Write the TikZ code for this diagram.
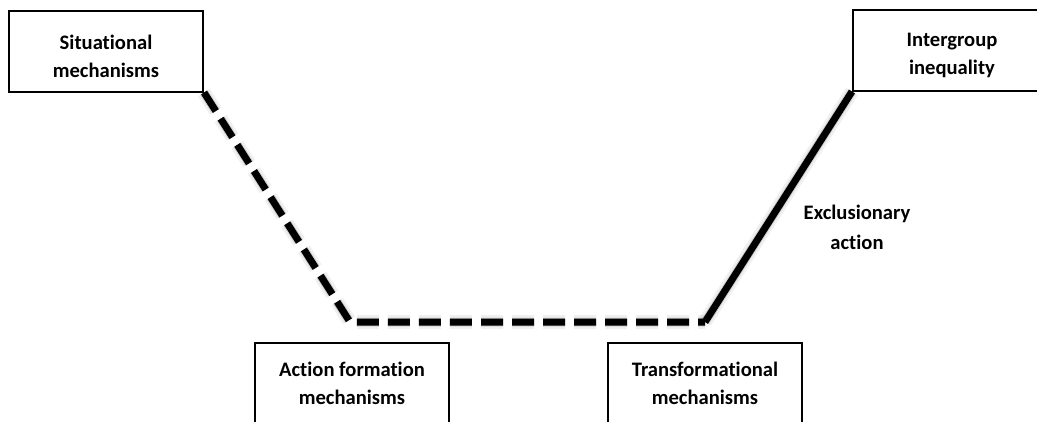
\documentclass[tikz,border=0pt]{standalone}
\usepackage{fontspec}
\setmainfont{Carlito}[Ligatures=NoCommon]
\begin{document}
\begin{tikzpicture}[x=1pt,y=-1pt,
  mbox/.style={draw=black, line width=2pt, minimum width=194pt, minimum height=81pt,
    inner sep=0pt},
  lbl/.style={align=center, inner sep=0pt, font=\bfseries\fontsize{20.6}{28}\selectfont},
  link/.style={line width=7pt, line join=miter},
  dashlink/.style={link, dash pattern=on 22pt off 9pt},
  shadowa/.style={line width=14pt, draw=black, opacity=0.06, line join=round},
  shadowb/.style={line width=9pt, draw=black, opacity=0.13, line join=round}]
\clip (0,0) rectangle (1037,421);
\fill[white] (0,0) rectangle (1037,421);
\node[mbox] (sit) at (106,51) {};
\node[mbox, minimum width=198pt] (ine) at (952,50) {};
\node[mbox] (act) at (352,383) {};
\node[mbox] (tra) at (705,383) {};
\node[lbl] (sit-t) at ([yshift=-5pt]sit.center) {Situational\\mechanisms};
\node[lbl] (ine-t) at ([yshift=-5pt]ine.center) {Intergroup\\inequality};
\node[lbl] (act-t) at ([yshift=0pt]act.center) {Action formation\\mechanisms};
\node[lbl] (tra-t) at ([yshift=0pt]tra.center) {Transformational\\mechanisms};
\node[lbl, font=\bfseries\fontsize{20.6}{30}\selectfont] (exc) at (857,227) {Exclusionary\\action};
\coordinate (c1) at (350,322);
\coordinate (c2) at (705,322);
% shadows
\begin{scope}[shift={(3,7)}]
\draw[shadowa, dash pattern=on 22pt off 9pt] (sit.south east) -- (c1) -- (c2);
\draw[shadowb, dash pattern=on 22pt off 9pt] (sit.south east) -- (c1) -- (c2);
\draw[shadowa] (c2) -- (ine.south west);
\draw[shadowb] (c2) -- (ine.south west);
\end{scope}
\draw[dashlink] (sit.south east) -- (c1) -- (c2);
\draw[link] (c2) -- (ine.south west);
\end{tikzpicture}
\end{document}
